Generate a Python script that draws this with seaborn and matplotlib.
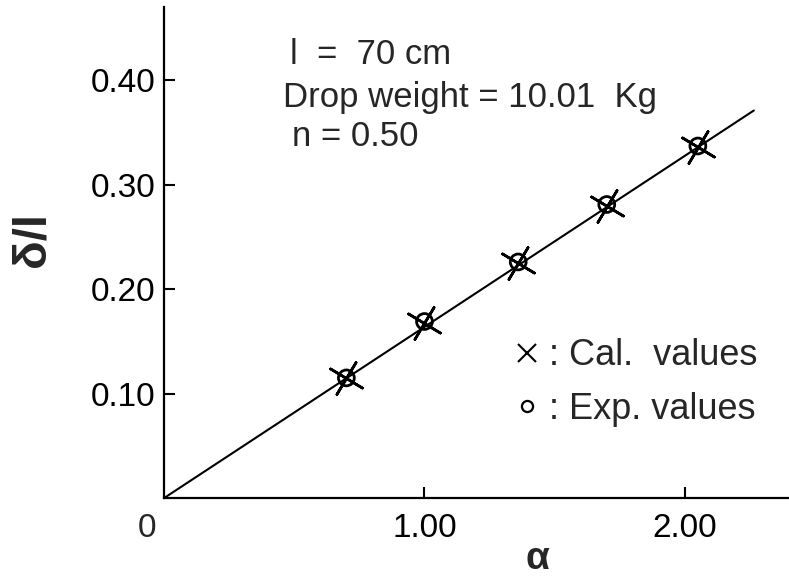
import matplotlib
matplotlib.use("Agg")
import matplotlib.pyplot as plt
from matplotlib.lines import Line2D
import seaborn as sns
import pandas as pd

# values
alpha_vals = [0.70, 1.00, 1.36, 1.70, 2.05]
exp_vals = [0.115, 0.169, 0.226, 0.281, 0.337]
cal_vals = [0.115, 0.168, 0.225, 0.280, 0.336]
line_alpha = [0.0, 2.265]
line_ratio = [0.0, 0.371]
xticks = [1.0, 2.0]
xtick_labels = ["1.00", "2.00"]
yticks = [0.10, 0.20, 0.30, 0.40]
ytick_labels = ["0.10", "0.20", "0.30", "0.40"]
notes = ["l  =  70 cm", "Drop weight = 10.01  Kg", "n = 0.50"]
legend_labels = [": Cal.  values", ": Exp. values"]

pts = pd.DataFrame({"alpha": alpha_vals, "exp": exp_vals, "cal": cal_vals})
fit = pd.DataFrame({"alpha": line_alpha, "ratio": line_ratio})

sns.set_style("ticks")
plt.rcParams["font.family"] = ["Liberation Sans", "DejaVu Sans"]

fig = plt.figure(figsize=(7.89, 5.88), dpi=100)
ax = fig.add_axes([0.208, 0.153, 0.792, 0.835])

sns.lineplot(data=fit, x="alpha", y="ratio", color="black", linewidth=1.5, ax=ax)
sns.scatterplot(data=pts, x="alpha", y="exp", marker="o", s=130,
                facecolor="none", edgecolor="black", linewidth=2, ax=ax, zorder=3)
sns.scatterplot(data=pts, x="alpha", y="cal", marker=(4, 2, 59), s=720,
                color="black", linewidth=1.9, ax=ax, zorder=4)

ax.set_xlim(0, 2.40)
ax.set_ylim(0, 0.47)
ax.set_xticks(xticks)
ax.set_xticklabels(xtick_labels)
ax.set_yticks(yticks)
ax.set_yticklabels(ytick_labels)
ax.tick_params(direction="in", length=8, width=1.5, labelsize=24, colors="black")
ax.tick_params(axis="y", pad=6.5)
ax.tick_params(axis="x", pad=11)
for side in ["top", "right"]:
    ax.spines[side].set_visible(False)
for side in ["left", "bottom"]:
    ax.spines[side].set_linewidth(1.6)
    ax.spines[side].set_color("black")

ax.annotate("0", xy=(0, 0), xycoords=("data", "axes fraction"),
            xytext=(-12, -11), textcoords="offset points",
            ha="center", va="top", fontsize=24)

ax.set_xlabel("α", fontsize=28, fontweight="bold")
ax.set_ylabel("δ/l", fontsize=34, fontweight="bold")
ax.xaxis.set_label_coords(0.598, -0.088)
ax.yaxis.set_label_coords(-0.175, 0.527)

ax.text(0.2016, 0.884, notes[0], transform=ax.transAxes, fontsize=25, va="baseline")
ax.text(0.190, 0.796, notes[1], transform=ax.transAxes, fontsize=25, va="baseline")
ax.text(0.205, 0.718, notes[2], transform=ax.transAxes, fontsize=25, va="baseline")

handles = [
    Line2D([], [], marker="x", linestyle="none", color="black", markersize=13, mew=1.5),
    Line2D([], [], marker="o", linestyle="none", color="black", markersize=8,
           mfc="none", mew=1.6),
]
ax.legend(handles, legend_labels, loc="upper left", bbox_to_anchor=(0.558, 0.325),
          frameon=False, fontsize=26, handlelength=0.8, handletextpad=0.2,
          labelspacing=0.5, borderpad=0, borderaxespad=0)

fig.savefig("out.png", dpi=100, facecolor="white")
